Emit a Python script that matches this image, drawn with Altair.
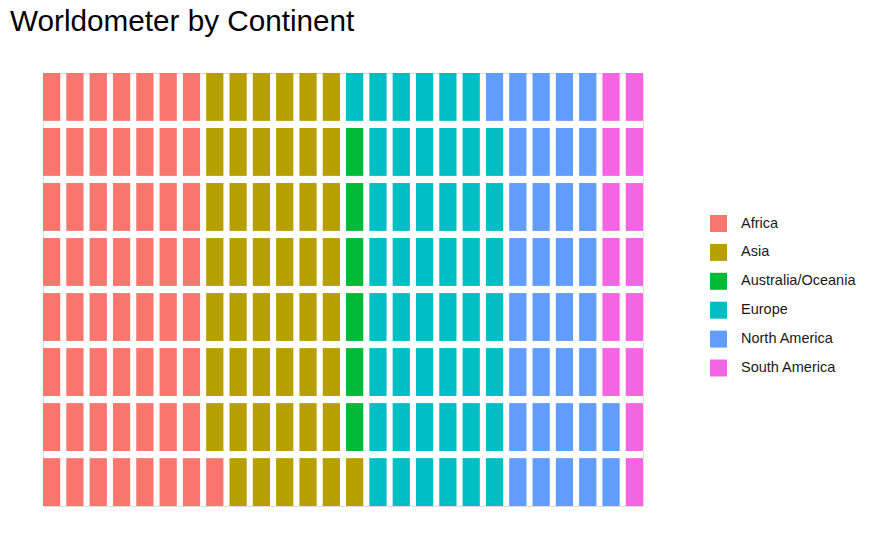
import altair as alt
import pandas as pd

continents = ["Africa", "Asia", "Australia/Oceania", "Europe", "North America", "South America"]
counts = [57, 48, 6, 48, 35, 14]
colors = ["#F8766D", "#B79F00", "#00BA38", "#00BFC4", "#619CFF", "#F564E3"]
n_rows = 8

rows = []
i = 0
for cont, c in zip(continents, counts):
    for _ in range(c):
        rows.append({"continent": cont, "col": i // n_rows + 1, "row": i % n_rows + 1})
        i += 1
df = pd.DataFrame(rows)

chart = alt.Chart(df).mark_rect().encode(
    x=alt.X("col:O", axis=None,
            scale=alt.Scale(paddingInner=0.26, paddingOuter=0)),
    y=alt.Y("row:O", axis=None, sort="descending",
            scale=alt.Scale(paddingInner=0.13, paddingOuter=0)),
    color=alt.Color("continent:N",
                    scale=alt.Scale(domain=continents, range=colors),
                    legend=alt.Legend(title=None, orient="none", legendX=667, legendY=142,
                                      symbolType="square", symbolSize=289,
                                      symbolStrokeWidth=0, symbolOpacity=1,
                                      labelFont="Liberation Sans", labelFontSize=14.5,
                                      labelColor="#1a1a1a", labelOffset=14,
                                      rowPadding=11.9, padding=0)),
).properties(
    width=600, height=433,
    title=alt.TitleParams("Worldometer by Continent", anchor="start", frame="group",
                          font="Liberation Sans", fontSize=29.7, fontWeight="normal",
                          color="black", dx=-33, baseline="alphabetic", offset=12),
    autosize=alt.AutoSizeParams(type="none"),
    padding={"left": 43, "top": 73, "right": 232, "bottom": 34},
).configure_view(strokeWidth=0).configure(background="white")

chart.save("out.html", embed_options={"renderer": "svg", "actions": False})
